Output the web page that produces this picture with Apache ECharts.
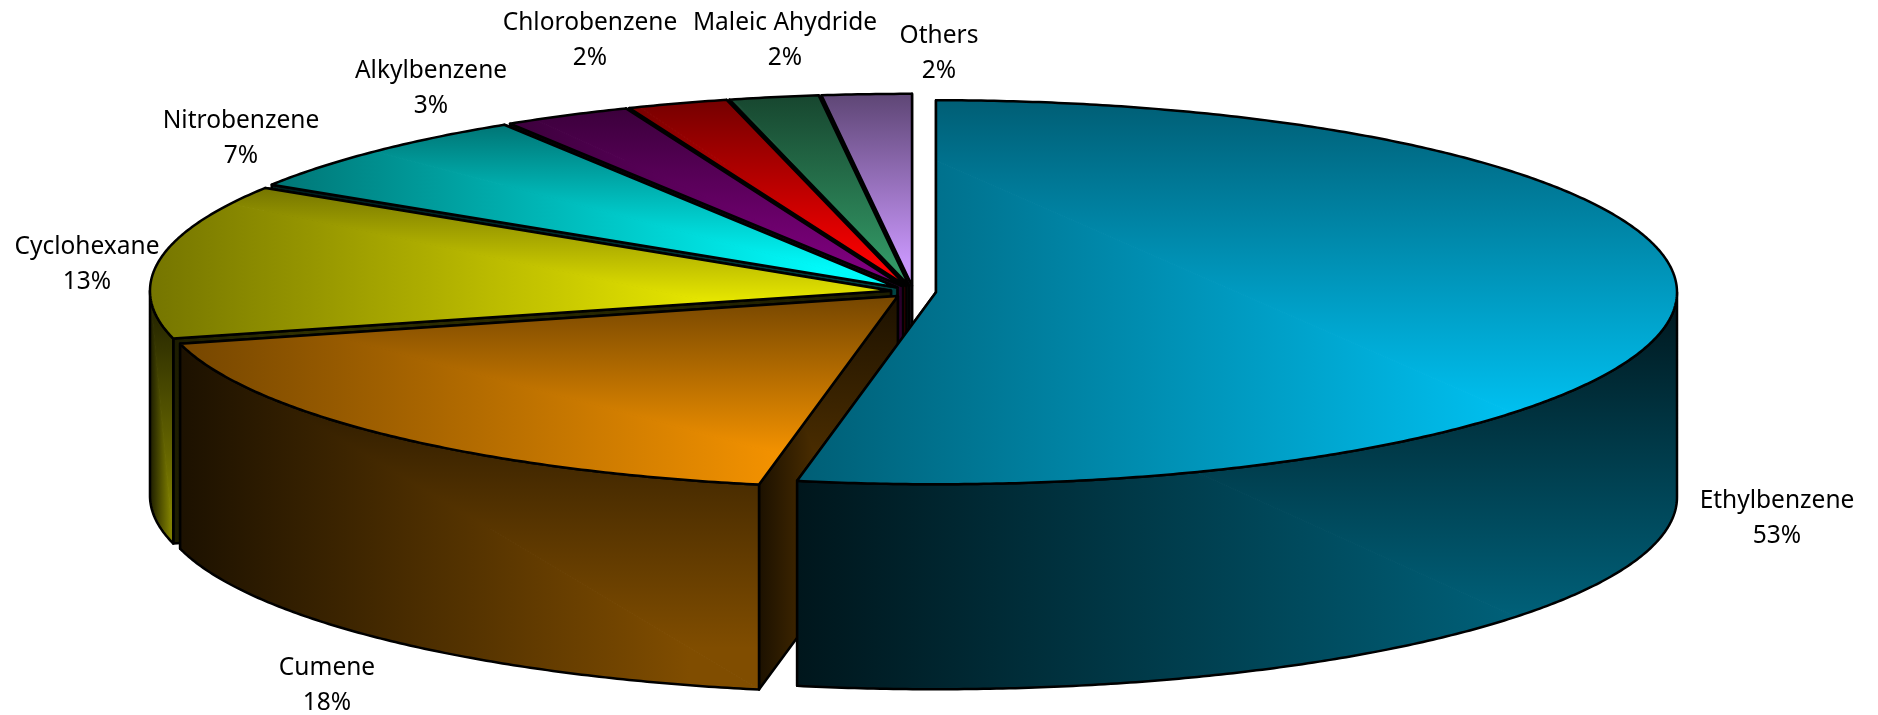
<!DOCTYPE html>
<html>
<head>
<meta charset="utf-8">
<title>Benzene consumption</title>
<script src="https://cdn.jsdelivr.net/npm/echarts@6/dist/echarts.min.js"></script>
<style>
	html, body { margin: 0; padding: 0; background: #fff; }
	#chart { width: 1878px; height: 715px; }
</style>
</head>
<body>
<div id="chart"></div>
<script>
	var categories = ['Ethylbenzene', 'Cumene', 'Cyclohexane', 'Nitrobenzene', 'Alkylbenzene', 'Chlorobenzene', 'Maleic Ahydride', 'Others'];
	// the labels show them rounded
	var shares = [53, 18, 13, 7.1, 2.8, 2.2, 1.95, 1.95];
	// bright end of each slice, darker ends are worked out from it
	var sliceColors = [[0, 204, 255], [255, 153, 0], [255, 255, 0], [0, 255, 255], [128, 0, 128], [255, 0, 0], [51, 153, 102], [204, 153, 255]];
	// back to front, the big slice goes on top
	var paintOrder = [7, 6, 5, 4, 3, 2, 1, 0];
	// label centre of the first line
	var labelPos = [[1777, 501], [327, 668], [87, 247], [241, 121], [431, 71], [590, 23], [785, 23], [939, 36]];

	var cx = 913.4, cy = 291.7;   // pie centre before the explode
	var rx = 741, ry = 192;       // top ellipse
	var depth = 205;
	var explode = 22.7;
	var lineH = 35;

	var total = shares.reduce(function (a, b) { return a + b; }, 0);
	var startShare = [];
	shares.reduce(function (acc, v, i) { startShare[i] = acc; return acc + v; }, 0);

	function rgb(c, k) {
		return 'rgb(' + Math.round(c[0] * k) + ',' + Math.round(c[1] * k) + ',' + Math.round(c[2] * k) + ')';
	}

	// keep the part of a polygon where side(p) >= 0
	function clip(points, side) {
		var out = [];
		for (var i = 0; i < points.length; i++) {
			var a = points[i], b = points[(i + 1) % points.length];
			var sa = side(a), sb = side(b);
			if (sa >= 0) out.push(a);
			if ((sa > 0 && sb < 0) || (sa < 0 && sb > 0)) {
				var t = sa / (sa - sb);
				out.push([a[0] + (b[0] - a[0]) * t, a[1] + (b[1] - a[1]) * t]);
			}
		}
		return out;
	}

	// corner gradient: dark along the top and left of the box, bright towards bottom right.
	// canvas has no such fill so the shape is cut along the box diagonal,
	// upper part fades vertically and lower part horizontally
	function shaded(list, points, color, k0, k1, z) {
		var xs = points.map(function (p) { return p[0]; });
		var ys = points.map(function (p) { return p[1]; });
		var x0 = Math.min.apply(null, xs), x1 = Math.max.apply(null, xs);
		var y0 = Math.min.apply(null, ys), y1 = Math.max.apply(null, ys);
		var stops = [{ offset: 0, color: rgb(color, k0) }, { offset: 1, color: rgb(color, k1) }];
		function side(p) { return (p[0] - x0) * (y1 - y0) - (p[1] - y0) * (x1 - x0); }

		var upper = new echarts.graphic.LinearGradient(0, y0, 0, y0 + (y1 - y0) * 0.88, stops, true);
		var lower = new echarts.graphic.LinearGradient(x0, 0, x0 + (x1 - x0) * 0.88, 0, stops, true);
		var parts = [
			[clip(points, side), upper],
			[clip(points, function (p) { return -side(p); }), lower]
		];
		parts.forEach(function (part) {
			if (part[0].length < 3) return;
			list.push({
				type: 'polygon',
				z2: z,
				shape: { points: part[0] },
				style: { fill: part[1], stroke: part[1], lineWidth: 1 }
			});
		});
		list.push({
			type: 'polygon',
			z2: z + 1,
			shape: { points: points },
			style: { fill: 'none', stroke: '#000', lineWidth: 2.5, lineJoin: 'round' }
		});
	}

	function renderItem(params, api) {
		var i = params.dataIndex;
		var a0 = startShare[i] / total * 360;
		var a1 = a0 + api.value(0) / total * 360;
		var mid = (a0 + a1) / 2 * Math.PI / 180;
		var ox = cx + explode * Math.sin(mid);
		var oy = cy - explode * Math.cos(mid) * ry / rx;
		var color = sliceColors[i];
		var rank = paintOrder.indexOf(i) * 10;

		function at(deg) {
			var t = deg * Math.PI / 180;
			return [ox + rx * Math.sin(t), oy - ry * Math.cos(t)];
		}
		function down(p) { return [p[0], p[1] + depth]; }
		function arc(from, to) {
			var pts = [];
			var n = Math.max(2, Math.ceil((to - from) * 2));
			for (var k = 0; k <= n; k++) pts.push(at(from + (to - from) * k / n));
			return pts;
		}

		var children = [];
		var apex = [ox, oy];
		[a1, a0].forEach(function (a, w) {
			var p = at(a);
			shaded(children, [apex, p, down(p), down(apex)], color, 0.11, 0.5, rank + w * 2);
		});

		// only the front half of the rim can be seen
		var f0 = Math.max(a0, 90), f1 = Math.min(a1, 270);
		if (f1 > f0) {
			var rim = arc(f0, f1);
			shaded(children, rim.concat(rim.map(down).reverse()), color, 0.11, 0.5, rank + 4);
		}
		shaded(children, [apex].concat(arc(a0, a1)), color, 0.46, 0.98, rank + 6);

		children.push({
			type: 'text',
			z2: 500,
			style: {
				text: categories[i] + '\n' + Math.round(api.value(0)) + '%',
				x: labelPos[i][0],
				y: labelPos[i][1] - lineH / 2,
				align: 'center',
				verticalAlign: 'top',
				fill: '#000',
				font: '24.5px "Noto Sans"',
				lineHeight: lineH
			}
		});
		return { type: 'group', children: children };
	}

	var chart = echarts.init(document.getElementById('chart'));
	chart.setOption({
		animation: false,
		backgroundColor: '#fff',
		series: [{
			type: 'custom',
			coordinateSystem: 'none',
			renderItem: renderItem,
			data: shares
		}]
	});
</script>
</body>
</html>
